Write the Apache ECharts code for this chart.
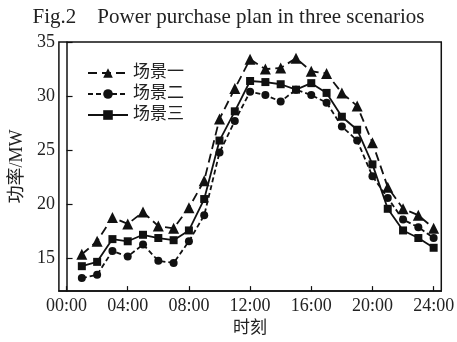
<!DOCTYPE html>
<html>
<head>
<meta charset="utf-8">
<script src="https://cdn.jsdelivr.net/npm/echarts@6/dist/echarts.min.js"></script>
<style>html,body{margin:0;padding:0;background:#fff;}#c{width:457px;height:342px;}</style>
</head>
<body>
<div id="c"></div>
<script>
var hours = [1,2,3,4,5,6,7,8,9,10,11,12,13,14,15,16,17,18,19,20,21,22,23,24];
var scenario1 = [15.4,16.6,18.8,18.2,19.3,18.0,17.8,19.7,22.2,27.9,30.7,33.4,32.5,32.6,33.5,32.3,32.1,30.3,29.1,25.7,21.6,19.6,19.0,17.8];
var scenario2 = [13.2,13.5,15.7,15.2,16.3,14.8,14.6,16.6,19.0,24.8,27.7,30.4,30.1,29.5,30.6,30.1,29.4,27.2,25.9,22.6,20.6,18.6,17.9,16.9];
var scenario3 = [14.3,14.7,16.8,16.6,17.2,16.9,16.7,17.6,20.5,25.9,28.6,31.4,31.3,31.1,30.6,31.2,30.3,28.1,26.9,23.7,19.6,17.6,16.9,16.0];
var names = ['场景一','场景二','场景三'];
var xTicks = [0,4,8,12,16,20,24];
var yTicks = [15,20,25,30,35];

function pairs(vals){ return hours.map(function(h,i){ return [h, vals[i]]; }); }
var serif = '"Liberation Serif", "Noto Sans CJK SC", serif';
var ink = '#111';

var chart = echarts.init(document.getElementById('c'));
chart.setOption({
  animation: false,
  backgroundColor: '#fff',
  title: {
    text: 'Fig.2    Power purchase plan in three scenarios',
    left: 'center', top: 2,
    textStyle: { fontFamily: serif, fontSize: 21, fontWeight: 'normal', color: '#222' }
  },
  legend: {
    orient: 'vertical', left: 82, top: 59,
    itemWidth: 40, itemHeight: 12, itemGap: 3,
    textStyle: { fontFamily: serif, fontSize: 17, color: '#222', lineHeight: 18 },
    data: names
  },
  grid: { left: 52, right: 15, top: 42, bottom: 47, show: true, borderColor: ink, borderWidth: 1.5 },
  xAxis: {
    type: 'value', min: -0.5, max: 24.5,
    name: '时刻', nameLocation: 'middle', nameGap: 26,
    nameTextStyle: { fontFamily: serif, fontSize: 17, color: '#222' },
    axisLine: { lineStyle: { color: ink, width: 1.5 } },
    axisTick: { inside: true, length: 5, customValues: xTicks, lineStyle: { color: ink, width: 1.2 } },
    axisLabel: { customValues: xTicks, fontFamily: serif, fontSize: 18, color: '#222', margin: 6,
      formatter: function(v){ return (v < 10 ? '0' : '') + v + ':00'; } },
    splitLine: { show: false }
  },
  yAxis: {
    type: 'value', min: 12, max: 35,
    name: '功率/MW', nameLocation: 'middle', nameGap: 31, nameRotate: 90,
    nameTextStyle: { fontFamily: serif, fontSize: 18, color: '#222' },
    axisLine: { show: true, lineStyle: { color: ink, width: 1.5 } },
    axisTick: { show: true, inside: true, length: 6, customValues: yTicks, lineStyle: { color: ink, width: 1.2 } },
    axisLabel: { customValues: yTicks, fontFamily: serif, fontSize: 18, color: '#222', margin: 4 },
    splitLine: { show: false }
  },
  series: [
    { name: names[0], type: 'line', data: pairs(scenario1), symbol: 'triangle', symbolSize: 11,
      lineStyle: { color: ink, width: 1.8, type: [9,5] }, itemStyle: { color: ink } },
    { name: names[1], type: 'line', data: pairs(scenario2), symbol: 'circle', symbolSize: 8,
      lineStyle: { color: ink, width: 1.8, type: [5,3] }, itemStyle: { color: ink } },
    { name: names[2], type: 'line', data: pairs(scenario3), symbol: 'rect', symbolSize: 8,
      lineStyle: { color: ink, width: 1.8, type: 'solid' }, itemStyle: { color: ink } }
  ]
});
</script>
</body>
</html>
